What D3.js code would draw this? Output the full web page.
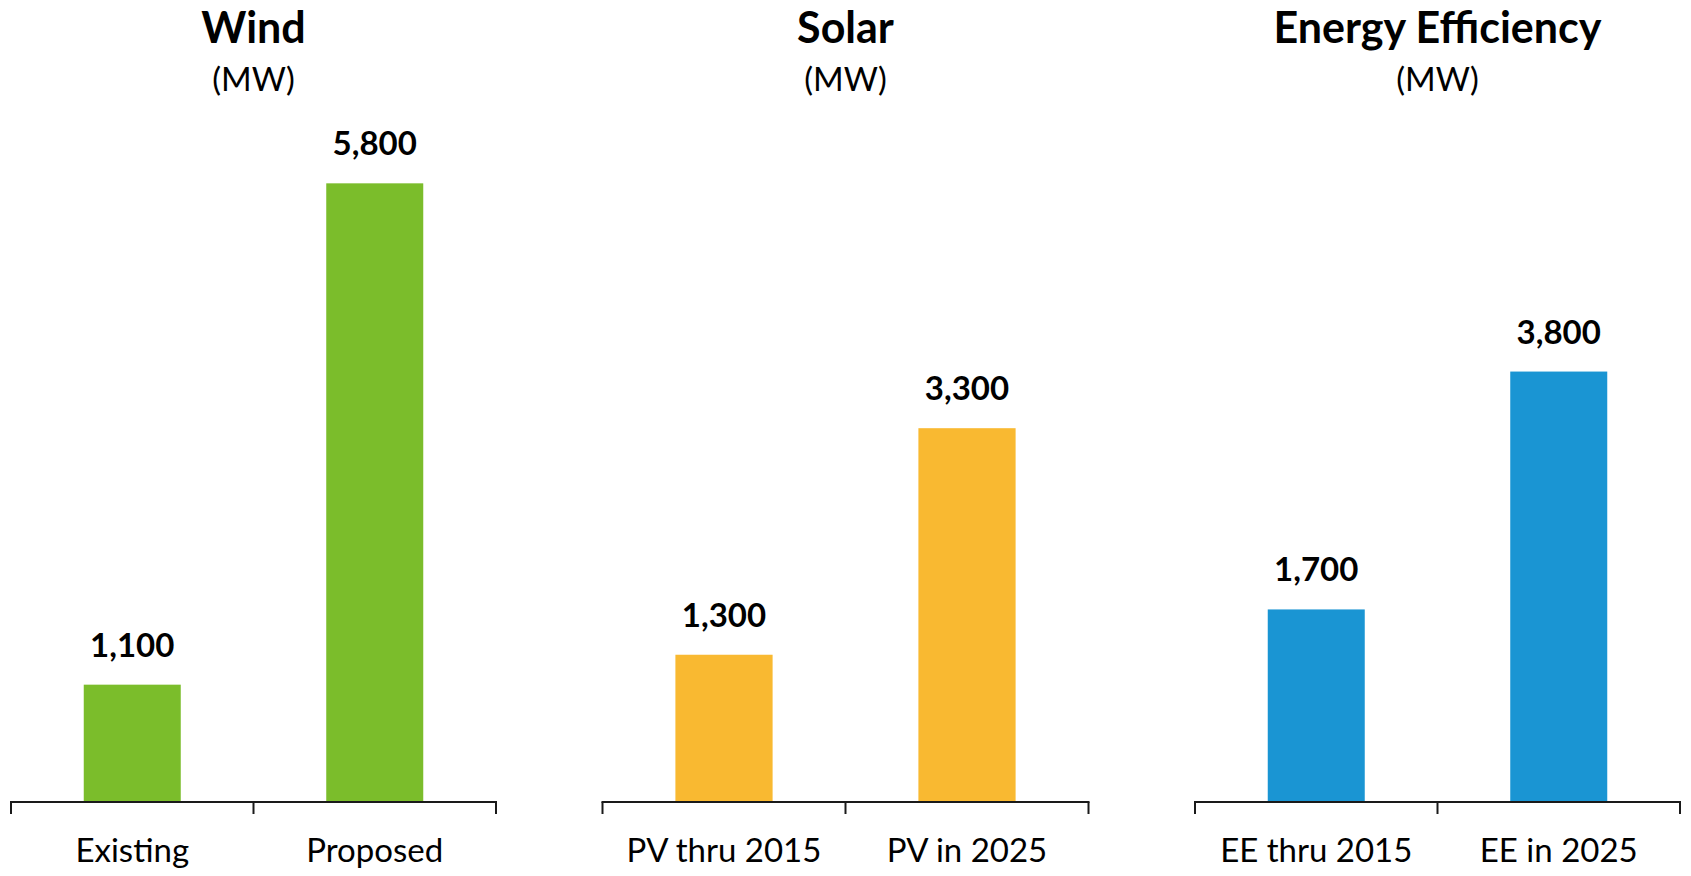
<!DOCTYPE html>
<html>
<head>
<meta charset="utf-8">
<script src="https://cdn.jsdelivr.net/npm/d3@7"></script>
<style>
  html, body { margin: 0; padding: 0; background: #ffffff; }
  svg { display: block; font-family: Lato, "Open Sans", sans-serif; }
</style>
</head>
<body>
<svg id="chart" width="1691" height="876"></svg>
<script>
// ---- data ----
const panelTitles = ["Wind", "Solar", "Energy Efficiency"];
const panelUnits = ["(MW)", "(MW)", "(MW)"];
const windCategories = ["Existing", "Proposed"];
const windValues = [1100, 5800];
const solarCategories = ["PV thru 2015", "PV in 2025"];
const solarValues = [1300, 3300];
const eeCategories = ["EE thru 2015", "EE in 2025"];
const eeValues = [1700, 3800];
const valueAxisMax = [6000, 5650, 5650];

// ---- layout / style ----
const panelColors = ["#7bbd2b", "#f9b931", "#1a95d3"];
const panelX = [[11, 496], [602.5, 1088.5], [1195, 1680]];
const baseY = 802, topY = 162;

const svg = d3.select("#chart");
const fmt = d3.format(",");

const panels = [
  { cats: windCategories, vals: windValues },
  { cats: solarCategories, vals: solarValues },
  { cats: eeCategories, vals: eeValues }
];

panels.forEach((p, i) => {
  const g = svg.append("g");
  const x = d3.scaleBand().domain(p.cats).range(panelX[i]).paddingInner(0.6).paddingOuter(0.3);
  const y = d3.scaleLinear().domain([0, valueAxisMax[i]]).range([baseY, topY]);
  const cx = (panelX[i][0] + panelX[i][1]) / 2;

  // title
  g.append("text").attr("x", cx).attr("y", 43).attr("text-anchor", "middle")
    .attr("font-size", 43).attr("font-weight", 700).attr("fill", "#000").text(panelTitles[i]);
  g.append("text").attr("x", cx).attr("y", 91).attr("text-anchor", "middle")
    .attr("font-size", 33).attr("fill", "#000").text(panelUnits[i]);

  const data = p.cats.map((c, j) => ({ c, v: p.vals[j] }));

  // bars
  g.selectAll("rect").data(data).join("rect")
    .attr("x", d => x(d.c)).attr("width", x.bandwidth())
    .attr("y", d => y(d.v)).attr("height", d => baseY - y(d.v))
    .attr("fill", panelColors[i]);

  // value labels
  g.selectAll("text.val").data(data).join("text").attr("class", "val")
    .attr("x", d => x(d.c) + x.bandwidth() / 2).attr("y", d => y(d.v) - 28)
    .attr("text-anchor", "middle").attr("font-size", 33).attr("font-weight", 700)
    .attr("fill", "#000").text(d => fmt(d.v));

  // axis line and boundary ticks
  const step = x.step();
  const tickXs = [panelX[i][0]];
  p.cats.forEach((c, j) => tickXs.push(panelX[i][0] + step * (j + 1)));
  g.append("line").attr("x1", panelX[i][0] - 1).attr("x2", panelX[i][1] + 1)
    .attr("y1", baseY).attr("y2", baseY).attr("stroke", "#1a1a1a").attr("stroke-width", 2);
  g.selectAll("line.tick").data(tickXs).join("line").attr("class", "tick")
    .attr("x1", d => d).attr("x2", d => d).attr("y1", baseY).attr("y2", baseY + 12)
    .attr("stroke", "#1a1a1a").attr("stroke-width", 2);

  // category labels
  g.selectAll("text.cat").data(data).join("text").attr("class", "cat")
    .attr("x", d => x(d.c) + x.bandwidth() / 2).attr("y", 862)
    .attr("text-anchor", "middle").attr("font-size", 33).attr("fill", "#000")
    .text(d => d.c);
});
</script>
</body>
</html>
